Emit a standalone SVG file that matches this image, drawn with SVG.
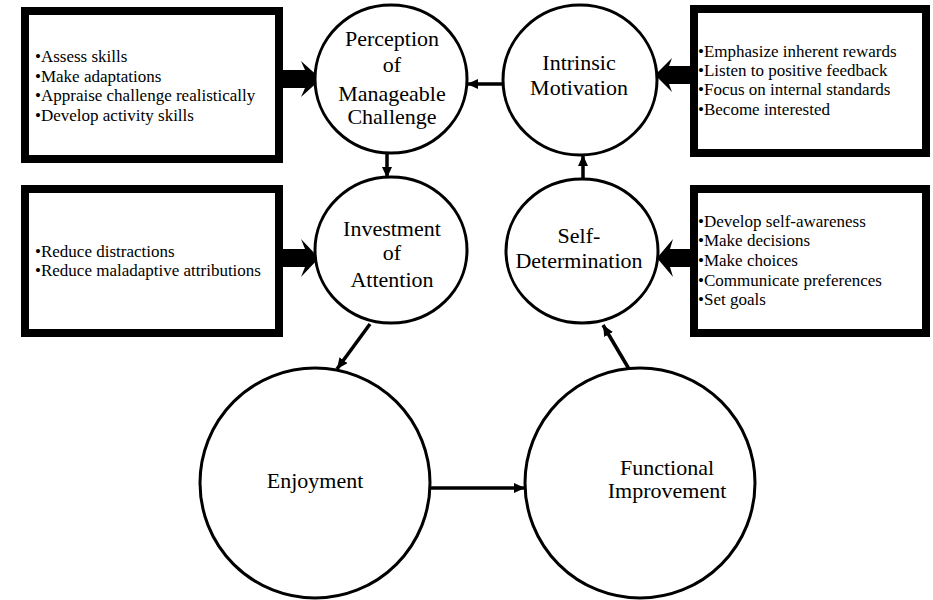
<svg xmlns="http://www.w3.org/2000/svg" width="933" height="600" viewBox="0 0 933 600">
<style>
  .box { fill: #fff; stroke: #000; stroke-width: 8; }
  .node { fill: #fff; stroke: #000; stroke-width: 3; }
  .btxt { font-family: "Liberation Serif", "Times New Roman", serif; font-size: 17px; fill: #000; }
  .ctxt { font-family: "Liberation Serif", "Times New Roman", serif; font-size: 22px; fill: #000; text-anchor: middle; }
  .conn { stroke: #000; stroke-width: 3.5; fill: none; }
  .thick { fill: #000; stroke: none; }
</style>
<defs>
  <marker id="ah" markerUnits="userSpaceOnUse" markerWidth="12" markerHeight="10" refX="11" refY="5" orient="auto">
    <path d="M0,0 L11,5 L0,10 z" fill="#000"/>
  </marker>
</defs>
<rect width="933" height="600" fill="#fff"/>

<g id="box-challenge">
  <rect class="box" x="25" y="11" width="254" height="148"/>
  <text class="btxt" x="35" y="62">•Assess skills</text>
  <text class="btxt" x="35" y="82">•Make adaptations</text>
  <text class="btxt" x="35" y="101">•Appraise challenge realistically</text>
  <text class="btxt" x="35" y="121">•Develop activity skills</text>
</g>
<g id="box-motivation">
  <rect class="box" x="694" y="9" width="232" height="144"/>
  <text class="btxt" x="698" y="57">•Emphasize inherent rewards</text>
  <text class="btxt" x="698" y="76">•Listen to positive feedback</text>
  <text class="btxt" x="698" y="95">•Focus on internal standards</text>
  <text class="btxt" x="698" y="115">•Become interested</text>
</g>
<g id="box-attention">
  <rect class="box" x="25" y="189" width="254" height="144"/>
  <text class="btxt" x="35" y="257">•Reduce distractions</text>
  <text class="btxt" x="35" y="276">•Reduce maladaptive attributions</text>
</g>
<g id="box-determination">
  <rect class="box" x="694" y="189" width="232" height="144"/>
  <text class="btxt" x="698" y="227">•Develop self-awareness</text>
  <text class="btxt" x="698" y="246">•Make decisions</text>
  <text class="btxt" x="698" y="266">•Make choices</text>
  <text class="btxt" x="698" y="286">•Communicate preferences</text>
  <text class="btxt" x="698" y="305">•Set goals</text>
</g>

<g id="connectors">
  <polygon class="thick" points="283,70 305,70 301,61 321,79 301,97 305,88 283,88"/>
  <polygon class="thick" points="690,66 669,66 672,58 655,75 672,92 669,84 690,84"/>
  <polygon class="thick" points="283,249 305,249 301,239 319,258 301,277 305,267 283,267"/>
  <polygon class="thick" points="690,249 670,249 673,239 657,258 673,277 670,267 690,267"/>
  <line class="conn" x1="387" y1="153" x2="387" y2="178" marker-end="url(#ah)"/>
  <line class="conn" x1="583" y1="180" x2="583" y2="155" marker-end="url(#ah)"/>
  <line class="conn" x1="504" y1="84" x2="467" y2="84" marker-end="url(#ah)"/>
  <line class="conn" x1="370" y1="324" x2="337" y2="369" marker-end="url(#ah)"/>
  <line class="conn" x1="430" y1="488" x2="525" y2="488" marker-end="url(#ah)"/>
  <line class="conn" x1="629" y1="369" x2="603" y2="325" marker-end="url(#ah)"/>
</g>

<g id="node-perception">
  <ellipse class="node" cx="391" cy="79" rx="76" ry="74"/>
  <text class="ctxt" x="392" y="46">Perception</text>
  <text class="ctxt" x="392" y="72">of</text>
  <text class="ctxt" x="392" y="101">Manageable</text>
  <text class="ctxt" x="392" y="124">Challenge</text>
</g>
<g id="node-intrinsic">
  <ellipse class="node" cx="580" cy="80" rx="77" ry="75"/>
  <text class="ctxt" x="579" y="70">Intrinsic</text>
  <text class="ctxt" x="579" y="95">Motivation</text>
</g>
<g id="node-investment">
  <ellipse class="node" cx="391" cy="250" rx="76" ry="73"/>
  <text class="ctxt" x="392" y="236">Investment</text>
  <text class="ctxt" x="392" y="260">of</text>
  <text class="ctxt" x="392" y="287">Attention</text>
</g>
<g id="node-selfdetermination">
  <ellipse class="node" cx="582" cy="251" rx="76" ry="72"/>
  <text class="ctxt" x="579" y="243">Self-</text>
  <text class="ctxt" x="579" y="268">Determination</text>
</g>
<g id="node-enjoyment">
  <circle class="node" cx="315" cy="483" r="115"/>
  <text class="ctxt" x="315" y="488">Enjoyment</text>
</g>
<g id="node-functional">
  <circle class="node" cx="640" cy="483" r="115"/>
  <text class="ctxt" x="667" y="475">Functional</text>
  <text class="ctxt" x="667" y="498">Improvement</text>
</g>
</svg>
